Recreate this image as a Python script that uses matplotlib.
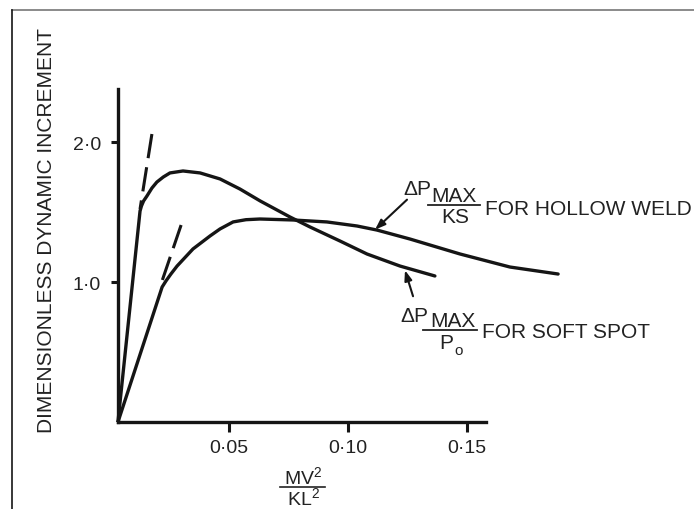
import numpy as np
import matplotlib
matplotlib.use("Agg")
import matplotlib.pyplot as plt
from matplotlib.lines import Line2D

plt.rcParams['font.family'] = ['Liberation Sans', 'DejaVu Sans']
plt.rcParams['mathtext.fontset'] = 'custom'
plt.rcParams['mathtext.rm'] = 'Liberation Sans'

# curves
soft_x = [0.0031, 0.0124, 0.0130, 0.0139, 0.0153, 0.0174, 0.0195, 0.0222, 0.0250, 0.0305,
          0.0377, 0.0461, 0.0545, 0.0630, 0.0756, 0.0840, 0.0966, 0.1080, 0.1219, 0.1366]
soft_y = [0.0, 1.507, 1.543, 1.579, 1.614, 1.671, 1.714, 1.750, 1.779, 1.793,
          1.779, 1.736, 1.664, 1.579, 1.464, 1.393, 1.293, 1.200, 1.114, 1.043]

hollow_x = [0.0031, 0.0217, 0.0233, 0.0254, 0.0280, 0.0347, 0.0419, 0.0461, 0.0516, 0.0570,
            0.0629, 0.0768, 0.0911, 0.1038, 0.1122, 0.1261, 0.1472, 0.1682, 0.1885]
hollow_y = [0.0, 0.964, 1.007, 1.057, 1.114, 1.236, 1.329, 1.379, 1.429, 1.445,
            1.450, 1.443, 1.429, 1.400, 1.371, 1.307, 1.200, 1.107, 1.057]

# dashed initial slopes
tan1_x = [0.0174, 0.0124]
tan1_y = [2.057, 1.521]
tan2_x = [0.0297, 0.0208]
tan2_y = [1.407, 0.964]

x_ticks = [0.05, 0.10, 0.15]
x_ticklabels = ['0·05', '0·10', '0·15']
y_ticks = [1.0, 2.0]
y_ticklabels = ['1·0', '2·0']

W, H = 694, 510
fig = plt.figure(figsize=(W / 100, H / 100), dpi=100)
fig.patch.set_facecolor('white')


def fx(px):
    return px / W


def fy(py):
    return 1 - py / H


ink = '#151515'
txt = '#222222'

ax = fig.add_axes([fx(110.6), fy(423), 0.21 * 2374 / W, 2.5 * 140 / H])
ax.set_xlim(0, 0.21)
ax.set_ylim(0, 2.5)
ax.patch.set_alpha(0)

for s in ['top', 'right']:
    ax.spines[s].set_visible(False)
ax.spines['left'].set_position(('data', 0.003))
ax.spines['left'].set_bounds(0, 2.38)
ax.spines['bottom'].set_bounds(0.003, 0.158)
for s in ['left', 'bottom']:
    ax.spines[s].set_linewidth(2.4)
    ax.spines[s].set_color(ink)

ax.set_xticks(x_ticks)
ax.set_xticklabels(x_ticklabels)
ax.set_yticks(y_ticks)
ax.set_yticklabels(y_ticklabels)
ax.tick_params(axis='x', direction='out', length=7, width=2.2, pad=5,
               labelsize=14, colors=ink, labelcolor=txt)
ax.tick_params(axis='y', direction='out', length=5, width=2.2, pad=7,
               labelsize=14, colors=ink, labelcolor=txt)

ax.plot(soft_x, soft_y, color=ink, lw=2.4, solid_capstyle='round', solid_joinstyle='round')
ax.plot(hollow_x, hollow_y, color=ink, lw=2.4, solid_capstyle='round', solid_joinstyle='round')
ax.plot(tan1_x, tan1_y, color=ink, lw=2.2, linestyle=(0, (8, 3)))
ax.plot(tan2_x, tan2_y, color=ink, lw=2.2, linestyle=(0, (8, 3)))

# arrows pointing at the curves
arrow = dict(arrowstyle='-|>,head_length=0.6,head_width=0.22', color=ink, lw=1.5,
             shrinkA=0, shrinkB=0)
hx = 0.1114
ax.annotate('', xy=(hx, np.interp(hx, hollow_x, hollow_y)), xytext=(23, 21.6),
            textcoords='offset points', arrowprops=arrow)
sx = 0.124
ax.annotate('', xy=(sx, np.interp(sx, soft_x, soft_y) - 0.02), xytext=(5.8, -18.7),
            textcoords='offset points', arrowprops=arrow)

fs = 15
# hollow weld label
fig.text(fx(403), fy(195), 'ΔP', fontsize=fs, color=txt, va='baseline', ha='left')
fig.text(fx(454), fy(202), 'MAX', fontsize=fs, color=txt, va='baseline', ha='center')
fig.add_artist(Line2D([fx(428), fx(480)], [fy(206), fy(206)], color=txt, lw=1.3))
fig.text(fx(455), fy(223), 'KS', fontsize=fs, color=txt, va='baseline', ha='center')
fig.text(fx(485), fy(215), 'FOR HOLLOW WELD', fontsize=fs, color=txt, va='baseline', ha='left')

# soft spot label
fig.text(fx(400), fy(322), 'ΔP', fontsize=fs, color=txt, va='baseline', ha='left')
fig.text(fx(453), fy(327), 'MAX', fontsize=fs, color=txt, va='baseline', ha='center')
fig.add_artist(Line2D([fx(423), fx(477)], [fy(331), fy(331)], color=txt, lw=1.3))
fig.text(fx(439), fy(349), 'P', fontsize=fs, color=txt, va='baseline', ha='left')
fig.text(fx(454), fy(355), 'o', fontsize=11, color=txt, va='baseline', ha='left')
fig.text(fx(482), fy(338), 'FOR SOFT SPOT', fontsize=fs, color=txt, va='baseline', ha='left')

# axis titles
fig.text(fx(47), fy(231), 'DIMENSIONLESS DYNAMIC INCREMENT', fontsize=15, color=txt,
         rotation=90, ha='center', va='center')
fig.text(fx(303), fy(485), r'MV$^{\mathrm{2}}$', fontsize=14, color=txt, va='baseline', ha='center')
fig.add_artist(Line2D([fx(280), fx(325)], [fy(488), fy(488)], color=txt, lw=1.2))
fig.text(fx(303), fy(506), r'KL$^{\mathrm{2}}$', fontsize=14, color=txt, va='baseline', ha='center')

# frame lines of the page
fig.add_artist(Line2D([fx(12), 1], [fy(10.5), fy(10.5)], color='#777777', lw=1.2))
fig.add_artist(Line2D([fx(12), fx(12)], [fy(10.5), 0], color=ink, lw=1.2))

fig.savefig('out.png', dpi=100)
